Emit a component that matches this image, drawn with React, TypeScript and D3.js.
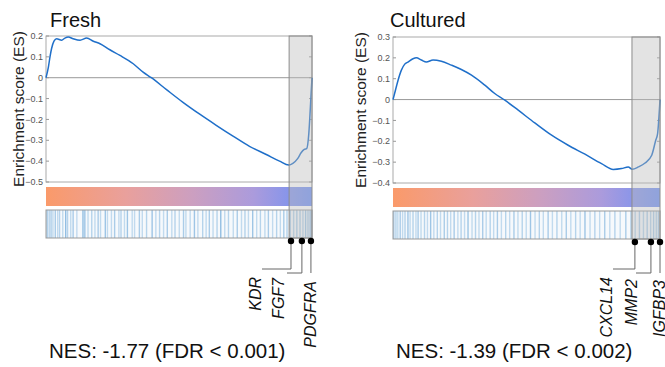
import React from 'react';
import * as d3 from 'd3';

// running enrichment score, rank in % of the ranked gene list
const freshRank = [0, 0.9, 1.5, 2.1, 3, 4, 5.9, 7.1, 8.4, 10.2, 12.8, 15.3, 17.8, 20.3, 24, 27.8, 32.8, 36.5, 39.6, 45.3, 51.5, 57.8, 64, 70.3, 76.5, 82.8, 87.8, 91.3, 92.8, 94.6, 95.9, 97.1, 98, 98.8, 99.4, 100];
const freshES = [0, 0.051, 0.1, 0.14, 0.175, 0.187, 0.18, 0.19, 0.195, 0.187, 0.18, 0.19, 0.175, 0.163, 0.134, 0.107, 0.067, 0.027, 0, -0.057, -0.118, -0.175, -0.228, -0.28, -0.329, -0.368, -0.4, -0.419, -0.411, -0.388, -0.36, -0.344, -0.34, -0.268, -0.14, 0];

const culturedRank = [0, 0.6, 1.9, 3.1, 4.4, 5.6, 7.5, 8.75, 10.6, 12.5, 15, 18.1, 21.9, 25.6, 29.4, 34.4, 38.1, 41.9, 46.9, 53.1, 59.4, 65.6, 71.9, 78.1, 82.5, 85.6, 88.1, 89.6, 91.9, 94.4, 96.9, 98.4, 99.1, 100];
const culturedES = [0, 0.029, 0.093, 0.14, 0.17, 0.18, 0.196, 0.2, 0.19, 0.18, 0.19, 0.184, 0.165, 0.144, 0.117, 0.069, 0.029, -0.003, -0.051, -0.112, -0.171, -0.219, -0.262, -0.307, -0.335, -0.331, -0.323, -0.334, -0.323, -0.304, -0.267, -0.195, -0.163, 0];

// gene set hits (barcode), rank % and line strength
const freshHits = [0.4, 1.2, 1.9, 2.6, 3.5, 4.4, 5.1, 6.3, 7.4, 8.1, 9.3, 10.2, 11.6, 13.9, 14.6, 15.8, 17.2, 18.4, 19.6, 20.5, 22.3, 23.1, 24.6, 25.8, 27.4, 28.2, 29.5, 30.6, 32.4, 33.3, 35.1, 36.2, 37.8, 39.9, 41.3, 42.7, 44.2, 45.6, 47.3, 48.5, 50.1, 51.7, 52.6, 54.2, 55.8, 57.1, 58.9, 60.2, 61.4, 62.8, 64.3, 65.7, 67.2, 68.6, 70.4, 71.9, 73.5, 74.8, 76.1, 77.7, 79.2, 80.6, 82.3, 83.6, 85.2, 86.7, 88.1, 89.4, 90.6, 91.8, 93.1, 94.3, 95.5, 96.6, 97.6, 98.5, 99.3, 99.8];
const freshShade = [0.6, 0.4, 0.5, 0.3, 0.5, 0.3, 0.4, 0.3, 0.7, 0.4, 0.3, 0.5, 0.3, 0.7, 0.6, 0.3, 0.4, 0.3, 0.5, 0.3, 0.6, 0.3, 0.3, 0.5, 0.3, 0.4, 0.3, 0.6, 0.3, 0.3, 0.5, 0.3, 0.4, 0.6, 0.3, 0.4, 0.3, 0.5, 0.3, 0.4, 0.3, 0.5, 0.3, 0.3, 0.6, 0.3, 0.4, 0.3, 0.5, 0.3, 0.4, 0.7, 0.3, 0.4, 0.3, 0.5, 0.3, 0.4, 0.3, 0.6, 0.3, 0.4, 0.3, 0.5, 0.3, 0.4, 0.3, 0.5, 0.4, 0.5, 0.4, 0.5, 0.5, 0.4, 0.6, 0.5, 0.6, 0.7];

const culturedHits = [0.3, 1.1, 1.8, 2.7, 3.6, 4.5, 5.6, 6.4, 7.5, 8.6, 9.4, 10.5, 11.8, 12.9, 14.1, 15.3, 16.6, 17.8, 19.2, 20.4, 21.6, 22.9, 24.3, 25.5, 26.8, 28.1, 29.6, 30.9, 32.2, 33.6, 34.9, 36.4, 37.7, 39.1, 40.6, 42.2, 43.7, 45.3, 46.8, 48.4, 49.9, 51.5, 53.2, 54.8, 56.3, 58.1, 59.7, 61.4, 63.2, 64.9, 66.6, 68.4, 70.1, 71.9, 73.8, 75.6, 77.4, 79.3, 81.2, 83.1, 85.1, 87.2, 89.1, 90.7, 92.3, 93.8, 95.2, 96.5, 97.6, 98.6, 99.4];
const culturedShade = [0.5, 0.4, 0.3, 0.5, 0.3, 0.4, 0.6, 0.3, 0.4, 0.3, 0.5, 0.3, 0.4, 0.3, 0.6, 0.3, 0.4, 0.3, 0.5, 0.4, 0.3, 0.5, 0.3, 0.4, 0.3, 0.6, 0.3, 0.4, 0.3, 0.5, 0.3, 0.4, 0.3, 0.5, 0.3, 0.4, 0.3, 0.5, 0.3, 0.4, 0.3, 0.6, 0.3, 0.4, 0.3, 0.5, 0.3, 0.4, 0.3, 0.5, 0.3, 0.4, 0.3, 0.6, 0.3, 0.4, 0.3, 0.5, 0.3, 0.4, 0.3, 0.5, 0.4, 0.4, 0.5, 0.4, 0.5, 0.4, 0.5, 0.4, 0.5];

const freshTicks = [0.2, 0.1, 0, -0.1, -0.2, -0.3, -0.4, -0.5];
const culturedTicks = [0.3, 0.2, 0.1, 0, -0.1, -0.2, -0.3, -0.4];

const freshGenes = ['KDR', 'FGF7', 'PDGFRA'];
const freshGeneRank = [92.1, 96.2, 99.6];
const culturedGenes = ['CXCL14', 'MMP2', 'IGFBP3'];
const culturedGeneRank = [90.6, 96.6, 100];

const font = "'Liberation Sans', Arial, Helvetica, sans-serif";
const fmt = (v: number) => (Math.abs(v) < 1e-9 ? '0' : d3.format('.1f')(v));
const hitColor = d3.interpolateRgb('#e4eff8', '#6fa9d8');

type PanelProps = {
  id: string;
  title: string;
  titleX: number;
  x0: number;
  x1: number;
  yTop: number;
  yBottom: number;
  yLabelX: number;
  ticks: number[];
  rank: number[];
  es: number[];
  hits: number[];
  shade: number[];
  edge: number;
  genes: string[];
  geneRank: number[];
  elbows: { y: number; left: number | null; textX: number; textY: number }[];
  nes: string;
};

const Panel = (p: PanelProps) => {
  const x = d3.scaleLinear().domain([0, 100]).range([p.x0, p.x1]);
  const y = d3.scaleLinear()
    .domain([p.ticks[p.ticks.length - 1], p.ticks[0]])
    .range([p.yBottom, p.yTop]);
  const line = d3.line<number>()
    .x((_, i) => x(p.rank[i]))
    .y(d => y(d))
    .curve(d3.curveMonotoneX);

  const barTop = p.yBottom + 5;
  const barH = 19;
  const codeTop = barTop + barH + 4;
  const codeH = 28;
  const dotY = codeTop + codeH + 3;

  return (
    <g>
      <defs>
        <linearGradient id={`grad-${p.id}`} x1="0" x2="1" y1="0" y2="0">
          <stop offset="0" stopColor="#fa9a6a" />
          <stop offset="0.3" stopColor="#e9a09c" />
          <stop offset="0.55" stopColor="#cc9fc0" />
          <stop offset="0.78" stopColor="#ab9bdc" />
          <stop offset="1" stopColor="#6f91f4" />
        </linearGradient>
      </defs>
      <text x={p.titleX} y={27} fontSize={20} fontFamily={font} fill="#111">{p.title}</text>
      <text transform={`translate(${p.yLabelX},${(p.yTop + p.yBottom) / 2}) rotate(-90)`}
        textAnchor="middle" fontSize={15.5} fontFamily={font} fill="#222">Enrichment score (ES)</text>

      {/* box */}
      <rect x={p.x0} y={p.yTop} width={p.x1 - p.x0} height={p.yBottom - p.yTop}
        fill="#fff" stroke="#aaa" strokeWidth={1} />
      <line x1={p.x0} x2={p.x1} y1={y(0)} y2={y(0)} stroke="#999" strokeWidth={1} />
      {p.ticks.map(t => (
        <g key={t}>
          <line x1={p.x0} x2={p.x0 + 3} y1={y(t)} y2={y(t)} stroke="#999" />
          <line x1={p.x1} x2={p.x1 - 3} y1={y(t)} y2={y(t)} stroke="#999" />
          <text x={p.x0 - 3} y={y(t)} dy="0.35em" textAnchor="end" fontSize={9}
            fontFamily={font} fill="#555">{fmt(t)}</text>
        </g>
      ))}
      <path d={line(p.es) ?? ''} fill="none" stroke="#1f6fc9" strokeWidth={1.5} />

      {/* ranked list gradient */}
      <rect x={p.x0} y={barTop} width={p.x1 - p.x0} height={barH} fill={`url(#grad-${p.id})`} />

      {/* barcode */}
      <rect x={p.x0} y={codeTop} width={p.x1 - p.x0} height={codeH} fill="#f6f9fc" />
      {p.hits.map((h, i) => (
        <line key={i} x1={x(h)} x2={x(h)} y1={codeTop} y2={codeTop + codeH}
          stroke={hitColor(p.shade[i])} strokeWidth={1.4} />
      ))}
      <rect x={p.x0} y={codeTop} width={p.x1 - p.x0} height={codeH} fill="none" stroke="#999" />

      {/* leading edge */}
      <rect x={x(p.edge)} y={p.yTop} width={p.x1 - x(p.edge)} height={codeTop + codeH - p.yTop}
        fill="#bdbdbd" fillOpacity={0.42} stroke="#8c8c8c" strokeWidth={1} />

      {/* genes */}
      {p.genes.map((g, i) => {
        const gx = x(p.geneRank[i]);
        const e = p.elbows[i];
        const pts = e.left === null
          ? `${gx},${dotY} ${gx},${e.y}`
          : `${gx},${dotY} ${gx},${e.y} ${e.left},${e.y}`;
        return (
          <g key={g}>
            <polyline points={pts} fill="none" stroke="#666" strokeWidth={1} />
            <circle cx={gx} cy={dotY} r={3.2} fill="#000" />
            <text transform={`translate(${e.textX},${e.textY}) rotate(-90)`} textAnchor="end"
              fontSize={16} fontStyle="italic" fontFamily={font} fill="#111">{g}</text>
          </g>
        );
      })}

      <text x={p.x0 + 3} y={358} fontSize={20.5} fontFamily={font} fill="#111">{p.nes}</text>
    </g>
  );
};

export default function App() {
  return (
    <svg width={665} height={367} style={{ position: 'absolute', left: 0, top: 0, background: '#fff' }}>
      <Panel id="fresh" title="Fresh" titleX={50} x0={46} x1={312} yTop={36} yBottom={182}
        yLabelX={24} ticks={freshTicks} rank={freshRank} es={freshES}
        hits={freshHits} shade={freshShade} edge={91.4}
        genes={freshGenes} geneRank={freshGeneRank}
        elbows={[
          { y: 269, left: 262, textX: 261, textY: 277 },
          { y: 273, left: 287, textX: 284, textY: 278 },
          { y: 273, left: null, textX: 316, textY: 281 },
        ]}
        nes="NES: -1.77 (FDR < 0.001)" />
      <Panel id="cultured" title="Cultured" titleX={390} x0={393} x1={660} yTop={37} yBottom={183}
        yLabelX={366} ticks={culturedTicks} rank={culturedRank} es={culturedES}
        hits={culturedHits} shade={culturedShade} edge={89.5}
        genes={culturedGenes} geneRank={culturedGeneRank}
        elbows={[
          { y: 269, left: 613, textX: 612, textY: 277 },
          { y: 273, left: 636, textX: 637, textY: 279 },
          { y: 273, left: null, textX: 665, textY: 280 },
        ]}
        nes="NES: -1.39 (FDR < 0.002)" />
    </svg>
  );
}
